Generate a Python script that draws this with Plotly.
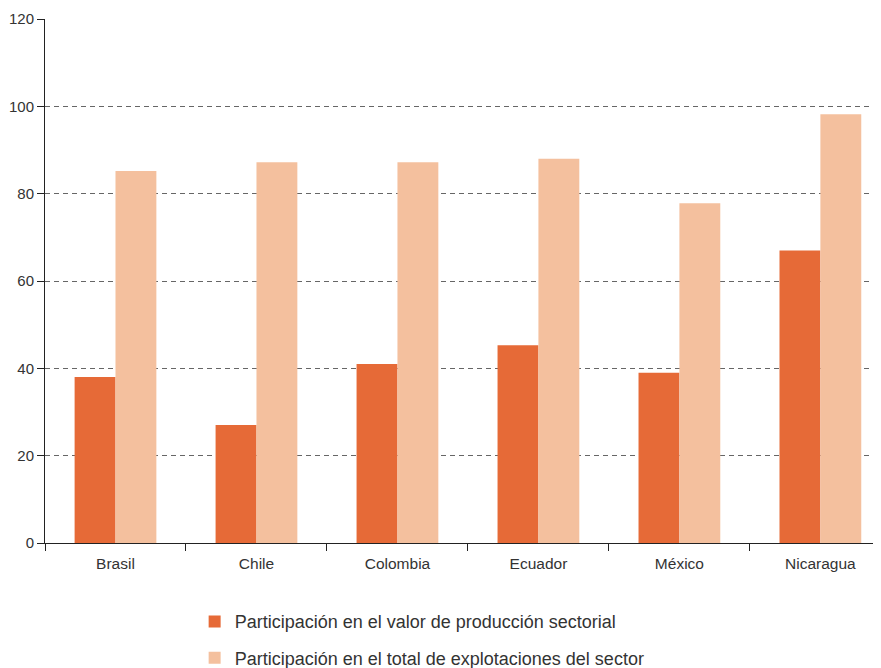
import plotly.graph_objects as go

categories = ["Brasil", "Chile", "Colombia", "Ecuador", "México", "Nicaragua"]
valor_produccion = [38, 27, 41, 45.3, 39, 67]
total_explotaciones = [85.2, 87.2, 87.2, 88, 77.8, 98.2]
series_names = ["Participación en el valor de producción sectorial",
                "Participación en el total de explotaciones del sector"]

fig = go.Figure()
fig.add_bar(x=categories, y=valor_produccion, name=series_names[0],
            marker=dict(color="#E66A37", line=dict(width=0)), legendgroup="a")
fig.add_bar(x=categories, y=total_explotaciones, name=series_names[1],
            marker=dict(color="#F4C09E", line=dict(width=0)), legendgroup="b")

fig.update_layout(
    width=873, height=660,
    margin=dict(l=37, r=0, t=11, b=125, autoexpand=False),
    paper_bgcolor="white", plot_bgcolor="white",
    barmode="group", bargap=0.42, bargroupgap=0,
    font=dict(family="Liberation Sans, Arial, sans-serif", size=15, color="#333333"),
    legend=dict(orientation="v", x=0.179, y=-0.115, xanchor="left", yanchor="top",
                font=dict(size=18, color="#333333"), tracegroupgap=10,
                itemwidth=30, traceorder="grouped"),
    showlegend=True,
)
fig.update_xaxes(range=[-0.5, 5.43], showline=True, linecolor="#222222", linewidth=1,
                 ticks="outside", tickson="boundaries", ticklen=7, tickcolor="#222222",
                 showgrid=False, tickfont=dict(size=15.5), automargin=False,
                 ticklabelstandoff=6)
fig.update_yaxes(range=[0, 120], dtick=20, showline=True, linecolor="#222222", linewidth=1,
                 ticks="outside", ticklen=7, tickcolor="#222222",
                 showgrid=True, gridcolor="#666666", griddash="5px,4px", gridwidth=1,
                 zeroline=False, tickfont=dict(size=15), automargin=False)

fig.write_html("out.html")
